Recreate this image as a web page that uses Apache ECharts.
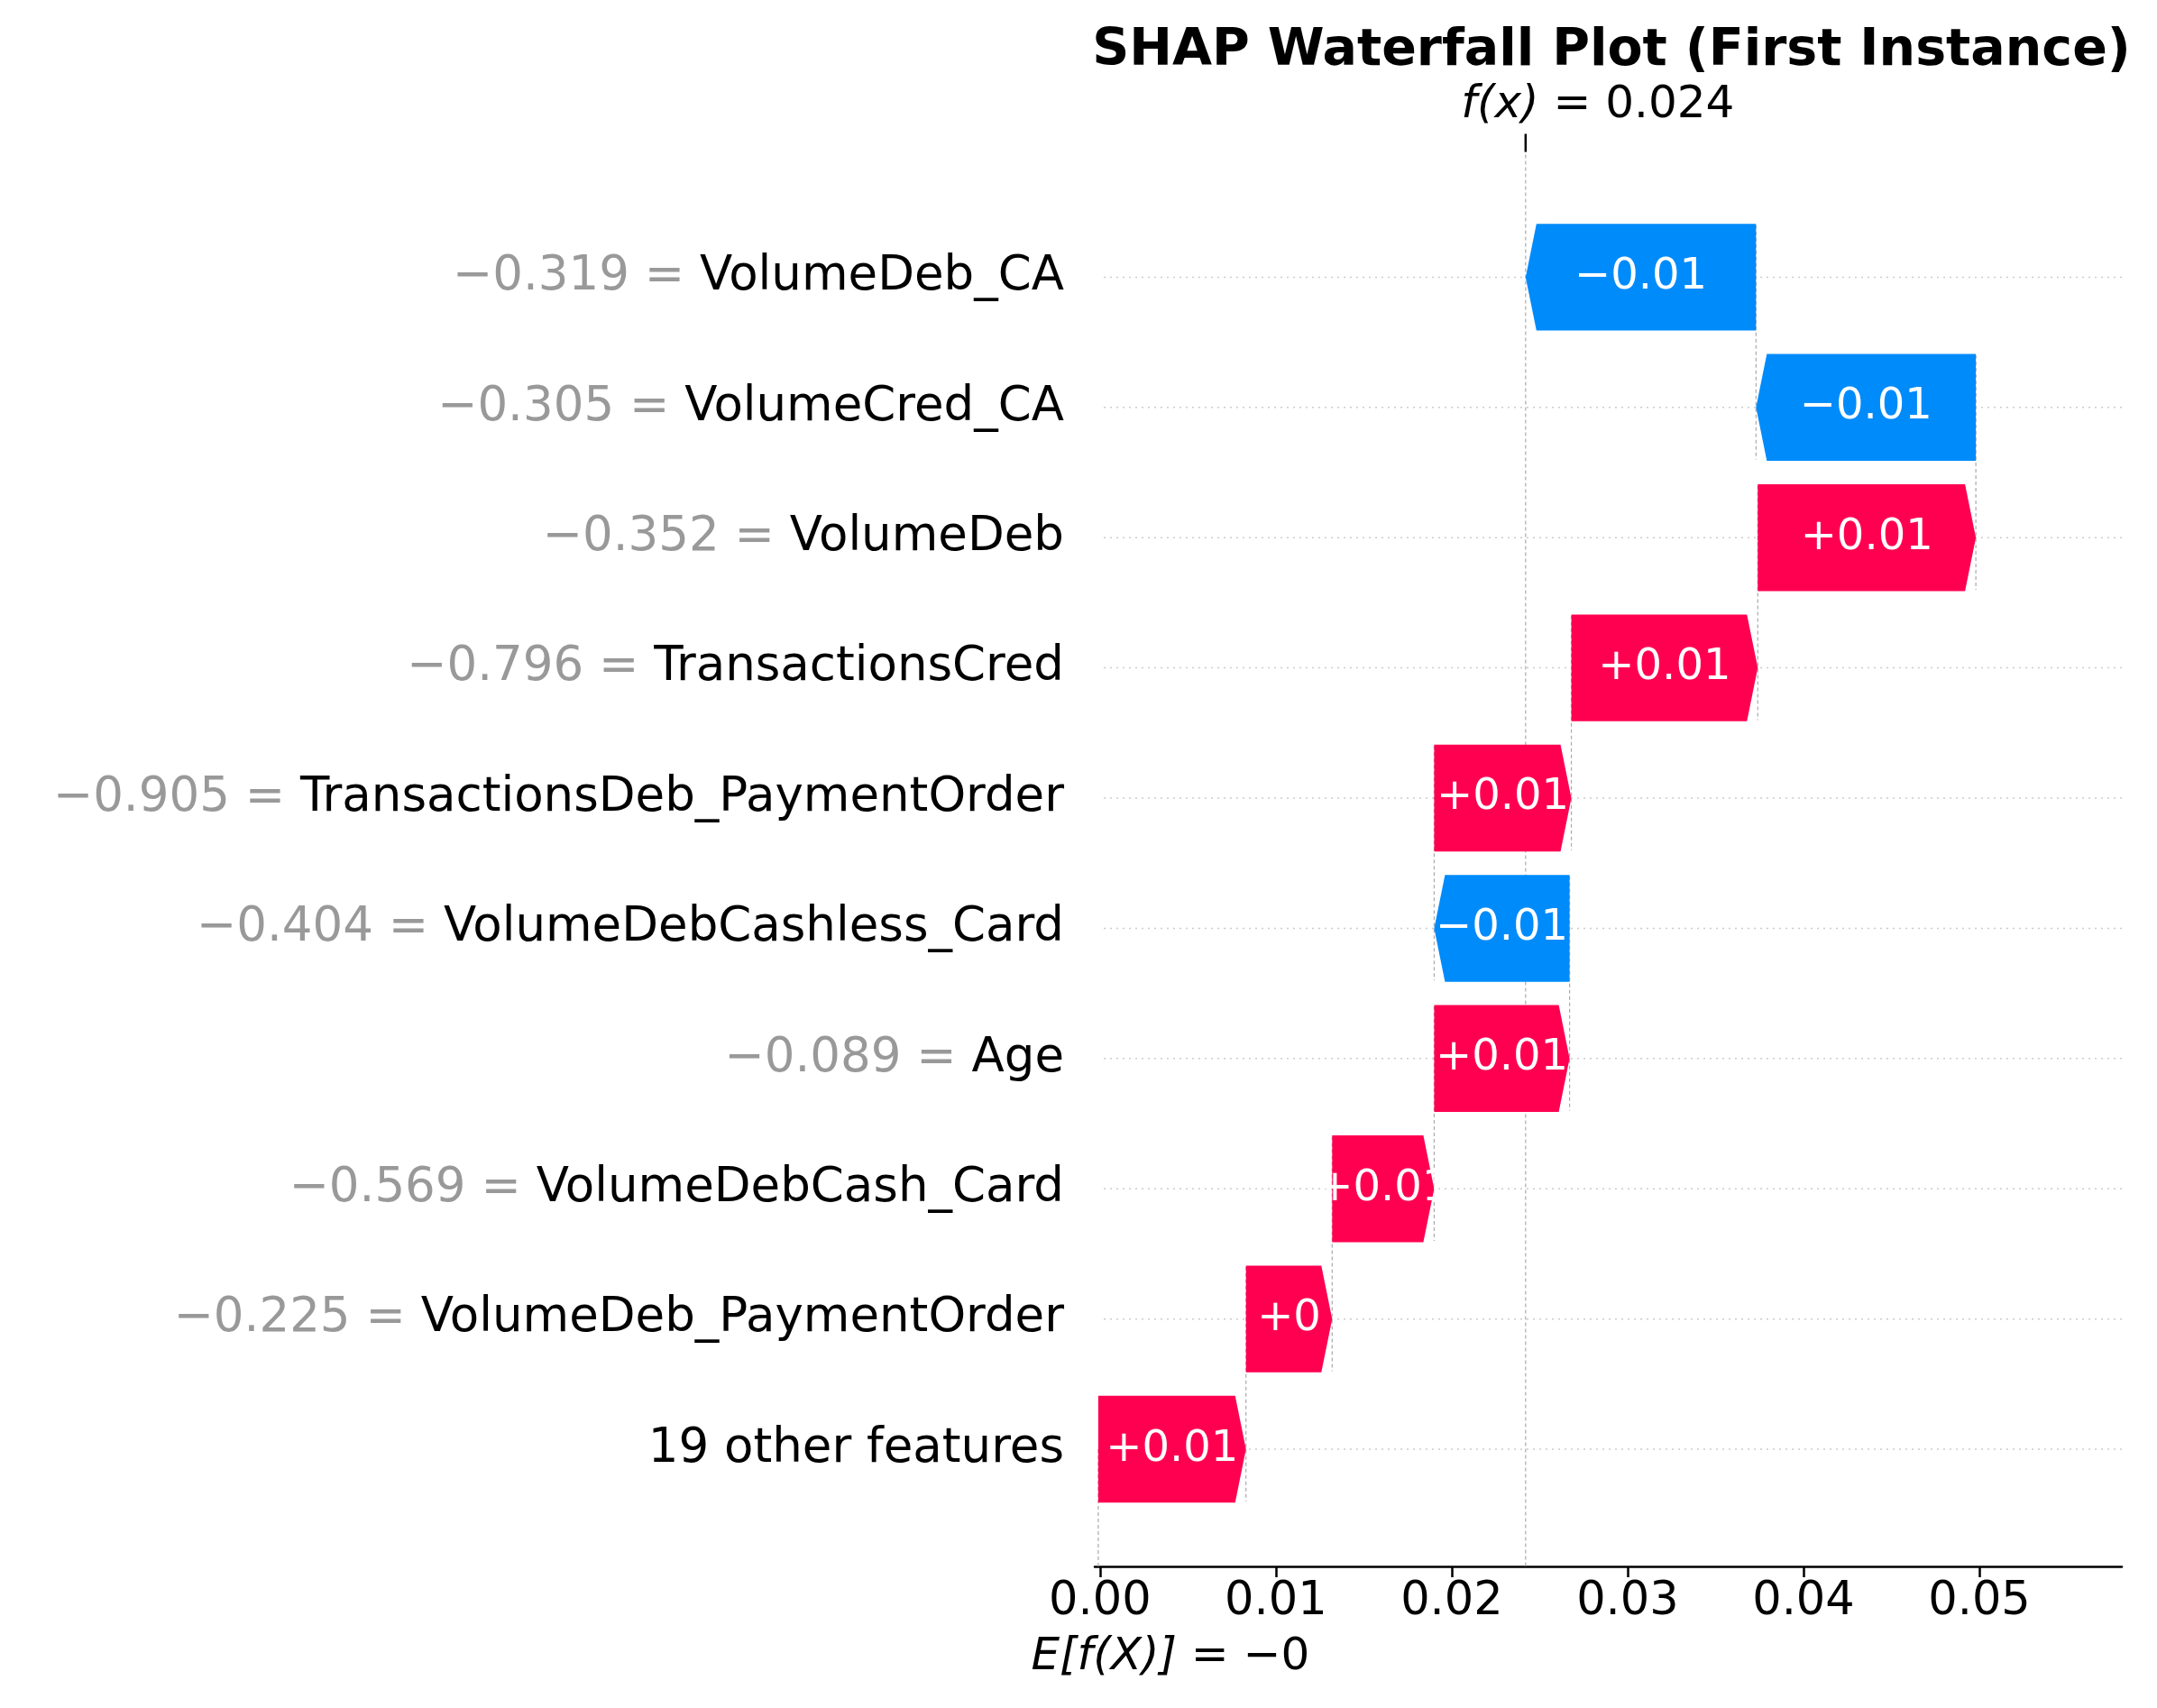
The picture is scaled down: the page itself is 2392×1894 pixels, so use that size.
<!DOCTYPE html>
<html><head><meta charset="utf-8">
<script src="https://cdn.jsdelivr.net/npm/echarts@6/dist/echarts.min.js"></script>
<style>html,body{margin:0;padding:0;background:#fff}#c{width:2392px;height:1894px}</style>
</head><body><div id="c"></div>
<script>
// top to bottom
const featureNames = ["VolumeDeb_CA","VolumeCred_CA","VolumeDeb","TransactionsCred","TransactionsDeb_PaymentOrder","VolumeDebCashless_Card","Age","VolumeDebCash_Card","VolumeDeb_PaymentOrder","19 other features"];
const featureValues = ["\u22120.319","\u22120.305","\u22120.352","\u22120.796","\u22120.905","\u22120.404","\u22120.089","\u22120.569","\u22120.225",null];
const shapValues = [-0.0131,-0.0125,0.0124,0.0106,0.0078,-0.0077,0.0077,0.0058,0.0049,0.0084];
const baseValue = -0.0001;
const xTicks = [0,0.01,0.02,0.03,0.04,0.05];

const RED = '#ff0051', BLUE = '#008bfb';
const FF = 'DejaVu Sans';
const n = featureNames.length;
const starts = new Array(n), ends = new Array(n);
let cur = baseValue;
for (let i = n-1; i >= 0; i--) { starts[i] = cur; cur += shapValues[i]; ends[i] = cur; }
const fx = cur;
const barData = shapValues.map((v,i)=>[starts[i], ends[i], i, v]);
const fmt = v => { const r = Number(v.toFixed(2)); const s = Math.abs(r).toString(); return (v>=0?'+':'\u2212')+s; };

const chart = echarts.init(document.getElementById('c'));
const connectors = [];
for (let i = 0; i < n-1; i++) connectors.push([starts[i], i-0.4, i+1+0.4]);
connectors.push([starts[n-1], n-1, 9.9]);

chart.setOption({
  animation:false,
  title:{text:'SHAP Waterfall Plot (First Instance)', left:1782, top:24, textAlign:'center',
    textStyle:{fontFamily:FF, fontWeight:'bold', fontSize:57, color:'#000'}},
  grid:{left:1214, right:39, top:163, bottom:157},
  xAxis:{type:'value', min:-0.0003, max:0.0581, splitLine:{show:false},
    axisLine:{show:true, onZero:false, lineStyle:{color:'#000', width:2.5}},
    axisTick:{show:true, customValues:xTicks, length:12, lineStyle:{color:'#000', width:2.5}},
    axisLabel:{customValues:xTicks, formatter:v=>v.toFixed(2), fontFamily:FF, fontSize:51, color:'#000', margin:14}},
  yAxis:{type:'value', inverse:true, min:-1, max:9.9, splitLine:{show:false}, axisLine:{show:false}, axisTick:{show:false},
    axisLabel:{customValues:[0,1,2,3,4,5,6,7,8,9], margin:34,
      formatter:v=>{const i=Math.round(v); return (featureValues[i]?'{g|'+featureValues[i]+' = }':'')+'{b|'+featureNames[i]+'}';},
      rich:{g:{color:'#999', fontSize:53, fontFamily:FF}, b:{color:'#000', fontSize:53, fontFamily:FF}}}},
  series:[
    {type:'custom', z:1, data:[0,1,2,3,4,5,6,7,8,9], renderItem:(p,api)=>{
      const y=api.value(0); const a=api.coord([-0.0003,y]), b=api.coord([0.0581,y]);
      return {type:'line', shape:{x1:a[0]+10,y1:a[1],x2:b[0],y2:b[1]}, style:{stroke:'#ccc', lineWidth:1.5, lineDash:[2,5]}};}},
    {type:'custom', z:2, data:connectors, renderItem:(p,api)=>{
      const a=api.coord([api.value(0),api.value(1)]), b=api.coord([api.value(0),api.value(2)]);
      return {type:'line', shape:{x1:a[0],y1:a[1],x2:b[0],y2:b[1]}, style:{stroke:'#aaa', lineWidth:1.2, lineDash:[4,3]}};}},
    {type:'custom', z:2, data:[[fx,-0.99,9.9]], renderItem:(p,api)=>{
      const a=api.coord([api.value(0),api.value(1)]), b=api.coord([api.value(0),api.value(2)]);
      return {type:'group', children:[
        {type:'line', shape:{x1:a[0],y1:a[1],x2:b[0],y2:b[1]}, style:{stroke:'#aaa', lineWidth:1.2, lineDash:[4,3]}},
        {type:'line', shape:{x1:a[0],y1:a[1]-16,x2:a[0],y2:a[1]+4}, style:{stroke:'#000', lineWidth:2.5}},
        {type:'text', x:a[0]+80, y:a[1]-22, style:{text:'{i|f(x)}{g| = '+fx.toFixed(3)+'}', align:'center', verticalAlign:'bottom',
          rich:{i:{fontStyle:'italic', fontSize:50, fontFamily:FF, color:'#000'}, g:{fontSize:50, fontFamily:FF, color:'#999'}}}}
      ]};}},
    {type:'custom', z:2, data:[[baseValue,9.9]], renderItem:(p,api)=>{
      const a=api.coord([api.value(0),api.value(1)]);
      return {type:'text', x:a[0]+80, y:a[1]+76, style:{text:'{i|E[f(X)]}{g| = \u22120}', align:'center', verticalAlign:'top',
          rich:{i:{fontStyle:'italic', fontSize:50, fontFamily:FF, color:'#000'}, g:{fontSize:50, fontFamily:FF, color:'#999'}}}};}},
    {type:'custom', z:5, data:barData, renderItem:(p,api)=>{
      const s=api.value(0), e=api.value(1), y=api.value(2), v=api.value(3);
      const top=api.coord([s,y-0.41])[1], bot=api.coord([s,y+0.41])[1], mid=api.coord([s,y])[1];
      const xs=api.coord([s,y])[0], xe=api.coord([e,y])[0];
      const h=12; let pts;
      if (v>=0) { const hh=Math.min(h, xe-xs); pts=[[xs,top],[xe-hh,top],[xe,mid],[xe-hh,bot],[xs,bot]]; }
      else { const hh=Math.min(h, xs-xe); pts=[[xs,top],[xe+hh,top],[xe,mid],[xe+hh,bot],[xs,bot]]; }
      return {type:'group', children:[
        {type:'polygon', shape:{points:pts}, style:{fill:v>=0?RED:BLUE}},
        {type:'text', x:(xs+xe)/2, y:mid, style:{text:fmt(v), fill:'#fff', fontSize:48, fontFamily:FF, align:'center', verticalAlign:'middle'}}
      ]};}}
  ]
});
</script></body></html>
